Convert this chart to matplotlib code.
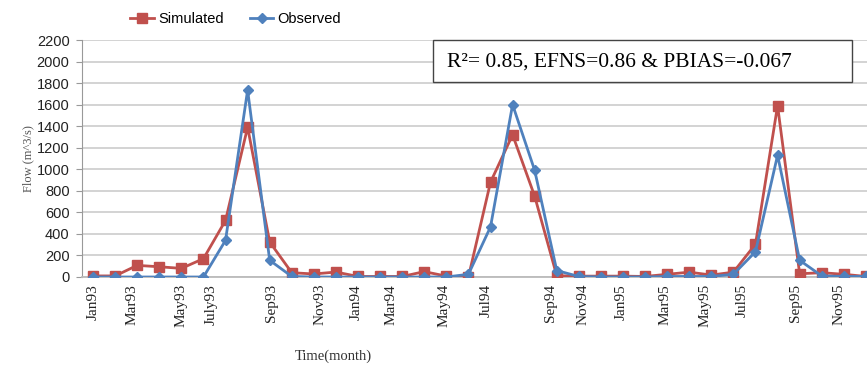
import matplotlib
matplotlib.use("Agg")
import matplotlib.pyplot as plt
from matplotlib.lines import Line2D
from matplotlib.patches import Rectangle

months = [f"{m}{y}" for y in ("93", "94", "95") for m in
          ("Jan", "Feb", "Mar", "Apr", "May", "Jun", "Jul", "Aug", "Sep", "Oct", "Nov", "Dec")]

simulated = [10, 10, 108, 95, 80, 170, 525, 1390, 325, 40, 28, 46,
             5, 5, 5, 50, 8, 0, 880, 1320, 750, 12, 8, 8,
             8, 5, 25, 45, 18, 45, 305, 1590, 30, 40, 25, 5]
observed = [0, 0, 0, 0, 0, 0, 340, 1735, 155, 5, 0, 0,
            0, 0, 0, 0, 0, 25, 465, 1600, 990, 60, 5, 0,
            0, 0, 5, 5, 5, 25, 235, 1130, 155, 10, 5, 5]

tick_labels = ["Jan93", "Mar93", "May93", "July93", "Sep93", "Nov93", "Jan94", "Mar94", "May94",
               "Jul94", "Sep94", "Nov94", "Jan95", "Mar95", "May95", "Jul95", "Sep95", "Nov95"]
tick_pos = [0, 1.75, 4.0, 5.35, 8.1, 10.3, 11.9, 13.5, 15.9,
            17.8, 20.7, 22.2, 23.9, 25.9, 27.7, 29.4, 31.8, 33.8]

RED = "#C0504D"
BLUE = "#4F81BD"
SERIF = "Liberation Serif"

fig = plt.figure(figsize=(8.67, 3.67), dpi=100, facecolor="white")
ax = fig.add_axes([82 / 867, 1 - 277 / 367, 1 - 82 / 867, (277 - 40) / 367])

x = range(len(months))
ax.plot(x, simulated, color=RED, lw=2, marker="s", ms=7, zorder=3)
ax.plot(x, observed, color=BLUE, lw=2, marker="D", ms=5, zorder=4)

ax.set_xlim(-0.5, 35.05)
ax.set_ylim(0, 2200)
ax.set_yticks(range(0, 2201, 200))
ax.tick_params(axis="y", labelsize=10.5, colors="#222222", length=4, color="#999999", pad=5)
for lab in ax.get_yticklabels():
    lab.set_fontfamily("Liberation Sans")
ax.set_xticks(tick_pos)
ax.set_xticklabels(tick_labels, rotation=90, fontsize=11, family=SERIF, color="#222222")
ax.tick_params(axis="x", length=0, pad=5)

ax.grid(axis="y", color="#D0D0D0", lw=1.3)
ax.set_axisbelow(True)
for s in ("top", "right"):
    ax.spines[s].set_visible(False)
ax.spines["left"].set_color("#999999")
ax.spines["bottom"].set_color("#BBBBBB")
ax.spines["bottom"].set_linewidth(1.3)

ax.set_ylabel("Flow (m^3/s)", family=SERIF, fontsize=9, color="#555555", labelpad=2)
ax.set_xlabel("Time(month)", family=SERIF, fontsize=10.5, color="#333333")
ax.xaxis.set_label_coords(0.32, -0.305)

ax.add_patch(Rectangle((0.447, 0.823), 0.534, 0.177, transform=ax.transAxes,
                       fc="white", ec="#444444", lw=1, zorder=6, clip_on=False))
ax.text(0.465, 0.905, "R\u00b2= 0.85, EFNS=0.86 & PBIAS=-0.067", transform=ax.transAxes,
        family=SERIF, fontsize=15.5, va="center", ha="left", zorder=7)

handles = [Line2D([], [], color=RED, lw=2, marker="s", ms=7),
           Line2D([], [], color=BLUE, lw=2, marker="D", ms=5)]
fig.legend(handles, ["Simulated", "Observed"], loc="center", bbox_to_anchor=(0.272, 0.947),
           ncol=2, frameon=False, handlelength=1.6, handletextpad=0.3, columnspacing=1.8,
           prop={"family": "Liberation Sans", "size": 10.5})

fig.savefig("out.png", dpi=100, facecolor="white")
